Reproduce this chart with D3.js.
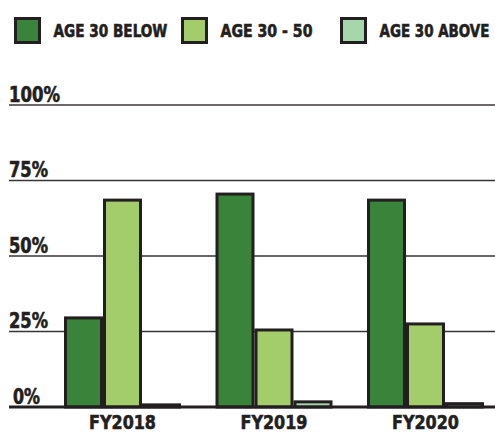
<!DOCTYPE html>
<html>
<head>
<meta charset="utf-8">
<style>
  body { margin: 0; background: #fff; }
  text { font-family: "DejaVu Sans Condensed", "Liberation Sans Narrow", sans-serif; font-stretch: condensed; font-weight: bold; fill: #231f20; stroke: #231f20; stroke-width: 0.6px; }
</style>
</head>
<body>
<svg id="chart" width="495" height="435"></svg>
<script src="https://cdn.jsdelivr.net/npm/d3@7"></script>
<script>
// data
var years = ["FY2018", "FY2019", "FY2020"];
var series = ["AGE 30 BELOW", "AGE 30 - 50", "AGE 30 ABOVE"];
var below = [30, 71, 69];
var middle = [69, 26, 28];
var above = [1.2, 2.2, 1.6];
var yTicks = [0, 25, 50, 75, 100];
var colors = ["#3a833a", "#a3cd6a", "#a6d7ac"];

var values = [below, middle, above];
var ink = "#231f20";

var svg = d3.select("#chart");

// squeeze a text horizontally to a target width (the original face is condensed)
function fitWidth(sel, widthFn, anchor) {
  sel.each(function(d, i) {
    var t = d3.select(this);
    var x = +t.attr("x"), yy = +t.attr("y");
    var w = this.getComputedTextLength();
    var sx = widthFn(d, i) / w;
    var ox = anchor === "middle" ? x : x;
    t.attr("transform", "translate(" + ox + "," + yy + ") scale(" + sx + ",1) translate(" + (-ox) + "," + (-yy) + ")");
  });
}

// scales
var y = d3.scaleLinear().domain([0, 100]).range([407, 105]);
var x0 = d3.scaleBand().domain(years).range([46.75, 501.25]).paddingInner(0.2277).paddingOuter(0.1139);
var x1 = d3.scaleBand().domain(series).range([0, x0.bandwidth()]);
var color = d3.scaleOrdinal().domain(series).range(colors);

// gridlines
svg.append("g").selectAll("line")
  .data(yTicks.filter(function(t) { return t > 0; }))
  .enter().append("line")
    .attr("x1", 9).attr("x2", 495)
    .attr("y1", function(d) { return y(d); })
    .attr("y2", function(d) { return y(d); })
    .attr("stroke", "#3a3536")
    .attr("stroke-width", 1.5);

// y labels
svg.append("g").selectAll("text")
  .data(yTicks)
  .enter().append("text")
    .attr("x", function(d) { return d === 0 ? 13 : 9; })
    .attr("y", function(d) { return y(d) - 3; })
    .style("font-size", "21px")
    .text(function(d) { return d + "%"; })
    .call(fitWidth, function(d) { return String(d).length * 12 + 15; });

// bars
var groups = svg.append("g").selectAll("g")
  .data(years)
  .enter().append("g")
    .attr("transform", function(d) { return "translate(" + x0(d) + ",0)"; });

groups.selectAll("rect")
  .data(function(d, i) { return series.map(function(s, j) { return {s: s, v: values[j][i]}; }); })
  .enter().append("rect")
    .attr("x", function(d) { return x1(d.s) + 1.5; })
    .attr("width", x1.bandwidth() - 3)
    .attr("y", function(d) { return y(d.v) + 1.5; })
    .attr("height", function(d) { return y(0) - y(d.v) - 1.5; })
    .attr("fill", function(d) { return color(d.s); })
    .attr("stroke", ink)
    .attr("stroke-width", 3);

// baseline
svg.append("line")
  .attr("x1", 9).attr("x2", 495)
  .attr("y1", y(0)).attr("y2", y(0))
  .attr("stroke", ink)
  .attr("stroke-width", 3);

// x labels
svg.append("g").selectAll("text")
  .data(years)
  .enter().append("text")
    .attr("x", function(d) { return x0(d) + x0.bandwidth() / 2; })
    .attr("y", 429)
    .attr("text-anchor", "middle")
    .style("font-size", "20px")
    .text(function(d) { return d; })
    .call(fitWidth, function() { return 67; }, "middle");

// legend
var legendX = [15.5, 182.5, 341.5];
var legendW = [114, 92, 110];
var legend = svg.append("g").selectAll("g")
  .data(series)
  .enter().append("g")
    .attr("transform", function(d, i) { return "translate(" + legendX[i] + ",18.5)"; });

legend.append("rect")
  .attr("width", 24).attr("height", 24)
  .attr("fill", function(d) { return color(d); })
  .attr("stroke", ink)
  .attr("stroke-width", 3);

legend.append("text")
  .attr("x", 38)
  .attr("y", 18.5)
  .style("font-size", "18px")
  .text(function(d) { return d; })
  .call(fitWidth, function(d, i) { return legendW[i]; });
</script>
</body>
</html>
